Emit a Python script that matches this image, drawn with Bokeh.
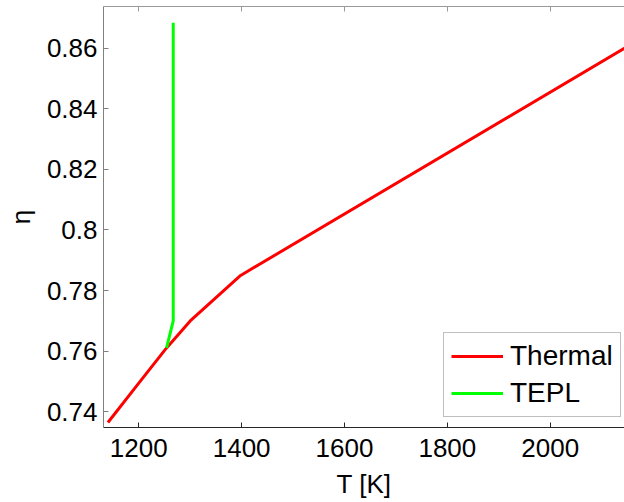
from bokeh.plotting import figure
from bokeh.models import LinearAxis, FixedTicker, Legend, LegendItem, Range1d
from bokeh.embed import file_html
from bokeh.resources import INLINE

# data
thermal_T = [1140, 1200, 1254, 1300, 1398, 2200]
thermal_eta = [0.7365, 0.7495, 0.7611, 0.7700, 0.7850, 0.8655]
tepl_T = [1254, 1267, 1267]
tepl_eta = [0.7611, 0.7700, 0.8683]
x_ticks = [1200, 1400, 1600, 1800, 2000]
y_ticks = [0.74, 0.76, 0.78, 0.80, 0.82, 0.84, 0.86]
y_tick_labels = {0.74: "0.74", 0.76: "0.76", 0.78: "0.78", 0.80: "0.8",
                 0.82: "0.82", 0.84: "0.84", 0.86: "0.86"}

FONT = "Liberation Sans"

p = figure(width=624, height=502, output_backend="svg", toolbar_location=None,
           x_range=Range1d(1131.4, 2144.4), y_range=Range1d(0.73486, 0.87370),
           x_axis_location=None, y_axis_location=None,
           min_border_left=103, min_border_right=0, min_border_top=6,
           min_border_bottom=75)
p.outline_line_color = None
p.grid.visible = False
p.background_fill_color = "white"
p.border_fill_color = "white"

def style_axis(ax, line_color):
    ax.axis_line_color = line_color
    ax.major_tick_line_color = line_color
    ax.major_tick_in = 5
    ax.major_tick_out = 0
    ax.minor_tick_line_color = None
    ax.major_label_text_font = FONT
    ax.major_label_text_font_size = "26px"
    ax.major_label_text_color = "black"
    ax.axis_label_text_font = FONT
    ax.axis_label_text_font_size = "26px"
    ax.axis_label_text_font_style = "normal"
    ax.axis_label_text_color = "black"

xax = LinearAxis(ticker=FixedTicker(ticks=x_ticks), axis_label="T [K]")
style_axis(xax, "#262626")
xax.major_label_standoff = 11
xax.axis_label_standoff = 9
p.add_layout(xax, "below")

yax = LinearAxis(ticker=FixedTicker(ticks=y_ticks), axis_label="η")
style_axis(yax, "#808080")
yax.major_label_overrides = y_tick_labels
yax.major_label_standoff = 6
yax.axis_label_standoff = 8
p.add_layout(yax, "left")

tax = LinearAxis(ticker=FixedTicker(ticks=x_ticks))
style_axis(tax, "#999999")
tax.major_label_overrides = {t: "" for t in x_ticks}
tax.major_label_text_font_size = "1px"
tax.major_label_standoff = 0
p.add_layout(tax, "above")

r1 = p.line(thermal_T, thermal_eta, line_color="#ff0000", line_width=3)
r2 = p.line(tepl_T, tepl_eta, line_color="#00ff00", line_width=3)

legend = Legend(items=[LegendItem(label="Thermal", renderers=[r1]),
                       LegendItem(label="TEPL", renderers=[r2])],
                location=(340, 10))
legend.label_text_font = FONT
legend.label_text_font_size = "28px"
legend.label_text_color = "black"
legend.label_height = 30
legend.glyph_height = 30
legend.glyph_width = 52
legend.label_standoff = 7
legend.spacing = 5
legend.padding = 7
legend.margin = 0
legend.border_line_color = "#808080"
legend.border_line_width = 1
legend.background_fill_alpha = 1.0
p.add_layout(legend, "center")

open("out.html", "w").write(file_html(p, INLINE))
